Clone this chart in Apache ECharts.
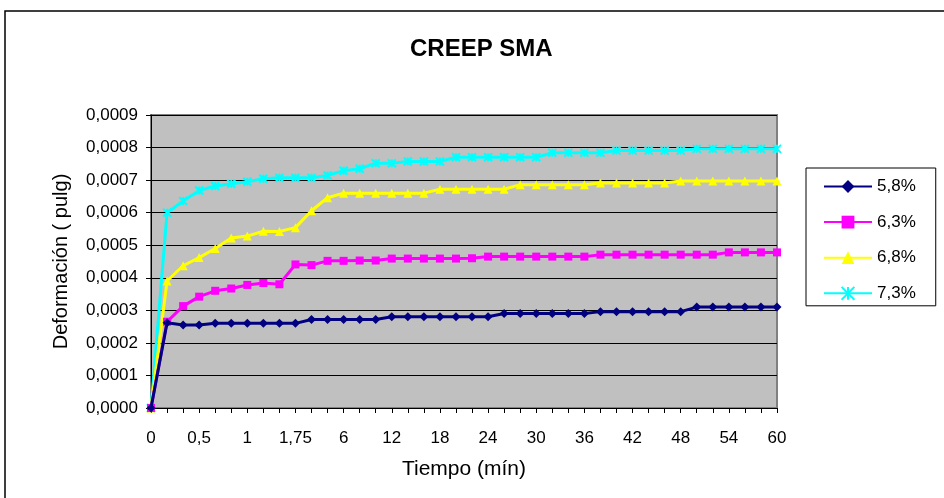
<!DOCTYPE html>
<html>
<head>
<meta charset="utf-8">
<script src="https://cdn.jsdelivr.net/npm/echarts@6/dist/echarts.min.js"></script>
<style>
  html, body { margin: 0; padding: 0; background: #fff; }
  #chart { width: 944px; height: 498px; }
</style>
</head>
<body>
<div id="chart"></div>
<script>
// Time steps (minutes) of the creep test
const tiempos = ['0','0,17','0,33','0,5','0,67','0,83','1','1,25','1,5','1,75','2','4',
  '6','8','10','12','14','16','18','20','22','24','26','28','30','32','34','36','38',
  '40','42','44','46','48','50','52','54','56','58','60'];

// Deformation (pulg) for each asphalt content
const def58 = [0,0.000262,0.000255,0.000255,0.00026,0.00026,0.00026,0.00026,0.00026,0.00026,
  0.000272,0.000272,0.000272,0.000272,0.000272,0.00028,0.00028,0.00028,0.00028,0.00028,
  0.00028,0.00028,0.00029,0.00029,0.00029,0.00029,0.00029,0.00029,0.000296,0.000296,
  0.000296,0.000296,0.000296,0.000296,0.00031,0.00031,0.00031,0.00031,0.00031,0.00031];
const def63 = [0,0.000265,0.000313,0.000342,0.00036,0.000367,0.000378,0.000384,0.00038,0.000441,
  0.000439,0.000452,0.000452,0.000453,0.000453,0.000459,0.000459,0.000459,0.000459,0.000459,
  0.00046,0.000465,0.000465,0.000465,0.000465,0.000465,0.000465,0.000465,0.000471,0.000471,
  0.000471,0.000471,0.000471,0.000471,0.000471,0.000471,0.000478,0.000478,0.000478,0.000478];
const def68 = [0,0.00039,0.000437,0.000462,0.00049,0.000522,0.000528,0.000543,0.000542,0.000554,
  0.000606,0.000646,0.00066,0.00066,0.00066,0.00066,0.00066,0.00066,0.000672,0.000672,
  0.000672,0.000672,0.000672,0.000686,0.000686,0.000686,0.000686,0.000686,0.000691,0.000691,
  0.000691,0.000691,0.000691,0.000697,0.000697,0.000697,0.000697,0.000697,0.000697,0.000697];
const def73 = [0,0.0006,0.000636,0.000668,0.000682,0.000689,0.000695,0.000704,0.000707,0.000707,
  0.000707,0.000714,0.000729,0.000735,0.000752,0.000752,0.000757,0.000757,0.000757,0.00077,
  0.00077,0.00077,0.00077,0.00077,0.00077,0.000784,0.000784,0.000784,0.000784,0.000791,
  0.000791,0.000791,0.000791,0.000791,0.000796,0.000796,0.000796,0.000796,0.000796,0.000796];

const nombres = ['5,8%','6,3%','6,8%','7,3%'];
const colores = ['#000080','#FF00FF','#FFFF00','#00FFFF'];
const simbolos = ['diamond','rect','triangle','path://M0,0L10,10M10,0L0,10M5,0L5,10'];
const tamanos = [9, 8, 9, 8];
const datos = [def58, def63, def68, def73];

const FONT = 'Liberation Sans, Arial, sans-serif';

const chart = echarts.init(document.getElementById('chart'), null, { renderer: 'canvas' });

const series = datos.map((d, i) => ({
  name: nombres[i],
  type: 'line',
  data: d,
  symbol: simbolos[i],
  symbolSize: tamanos[i],
  showAllSymbol: true,
  smooth: false,
  lineStyle: { color: colores[i], width: 3 },
  itemStyle: i === 3
    ? { color: colores[i], borderColor: colores[i], borderWidth: 2 }
    : { color: colores[i] },
  emphasis: { disabled: true },
  z: 3 + (3 - i)
}));

chart.setOption({
  animation: false,
  backgroundColor: '#ffffff',
  title: {
    text: 'CREEP SMA',
    left: 405,
    top: 32,
    textStyle: { fontFamily: FONT, fontSize: 24, fontWeight: 'bold', color: '#000' }
  },
  graphic: [{
    type: 'rect',
    shape: { x: 5, y: 11, width: 1200, height: 800 },
    style: { fill: 'none', stroke: '#000', lineWidth: 1.5 },
    silent: true,
    z: -1
  }],
  legend: {
    orient: 'vertical',
    left: 806,
    top: 168,
    padding: [10, 20, 4, 17],
    itemWidth: 48,
    itemHeight: 16,
    itemGap: 18.6,
    borderColor: '#000',
    borderWidth: 1,
    backgroundColor: '#fff',
    textStyle: { fontFamily: FONT, fontSize: 17, color: '#000', lineHeight: 16 },
    data: nombres
  },
  grid: {
    left: 151, top: 115, width: 626, height: 293,
    show: true,
    backgroundColor: '#C0C0C0',
    borderColor: '#808080',
    borderWidth: 2
  },
  xAxis: {
    type: 'category',
    data: tiempos,
    boundaryGap: false,
    name: 'Tiempo (mín)',
    nameLocation: 'middle',
    nameGap: 51,
    nameTextStyle: { fontFamily: FONT, fontSize: 21, color: '#000' },
    axisLine: { show: true, onZero: false, lineStyle: { color: '#000', width: 1 } },
    axisTick: { show: true, interval: 0, length: 5, lineStyle: { color: '#000' } },
    axisLabel: { interval: 2, margin: 22, fontFamily: FONT, fontSize: 17, color: '#000' },
    splitLine: { show: false }
  },
  yAxis: {
    type: 'value',
    min: 0,
    max: 0.0009,
    interval: 0.0001,
    name: 'Deformación ( pulg)',
    nameLocation: 'middle',
    nameGap: 80,
    nameTextStyle: { fontFamily: FONT, fontSize: 20, color: '#000' },
    axisLine: { show: true, lineStyle: { color: '#000', width: 1 } },
    axisTick: { show: true, length: 5, lineStyle: { color: '#000' } },
    axisLabel: {
      margin: 13,
      fontFamily: FONT, fontSize: 17, color: '#000',
      formatter: v => v.toFixed(4).replace('.', ',')
    },
    splitLine: { show: true, lineStyle: { color: '#000', width: 1 } }
  },
  series: series
});
</script>
</body>
</html>
